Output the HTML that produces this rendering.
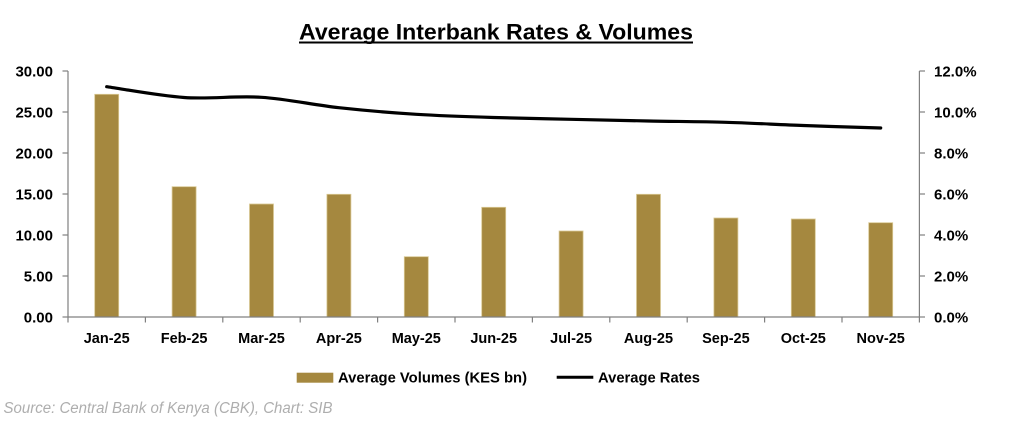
<!DOCTYPE html>
<html><head><meta charset="utf-8"><style>
html,body{margin:0;padding:0;background:#fff;}
svg{display:block;}
text{font-family:"Liberation Sans",sans-serif;}
</style></head><body>
<svg width="1024" height="425" viewBox="0 0 1024 425" xmlns="http://www.w3.org/2000/svg">
<rect width="1024" height="425" fill="#fff"/>
<!-- Title -->
<text x="299" y="39.5" font-size="22" font-weight="bold" fill="#000" textLength="394" lengthAdjust="spacingAndGlyphs">Average Interbank Rates &amp; Volumes</text>
<rect x="299" y="41.5" width="394" height="2" fill="#000"/>

<!-- Bars -->
<g fill="#A5883F" stroke="#D9C995" stroke-width="0.8">
<rect x="94.7" y="94.3" width="24" height="222.7"/>
<rect x="172.1" y="186.7" width="24" height="130.3"/>
<rect x="249.5" y="204" width="24" height="113"/>
<rect x="326.9" y="194.3" width="24" height="122.7"/>
<rect x="404.3" y="256.7" width="24" height="60.3"/>
<rect x="481.7" y="207.3" width="24" height="109.7"/>
<rect x="559.1" y="231" width="24" height="86"/>
<rect x="636.5" y="194.3" width="24" height="122.7"/>
<rect x="713.9" y="218" width="24" height="99"/>
<rect x="791.3" y="219" width="24" height="98"/>
<rect x="868.7" y="222.7" width="24" height="94.3"/>
</g>

<!-- Axes -->
<g stroke="#808080" stroke-width="1.2" fill="none">
<line x1="68" y1="71" x2="68" y2="317"/>
<line x1="919.4" y1="71" x2="919.4" y2="317"/>
<line x1="68" y1="317" x2="919.4" y2="317"/>
<!-- left ticks -->
<line x1="62.5" y1="71" x2="68" y2="71"/>
<line x1="62.5" y1="112" x2="68" y2="112"/>
<line x1="62.5" y1="153" x2="68" y2="153"/>
<line x1="62.5" y1="194" x2="68" y2="194"/>
<line x1="62.5" y1="235" x2="68" y2="235"/>
<line x1="62.5" y1="276" x2="68" y2="276"/>
<line x1="62.5" y1="317" x2="68" y2="317"/>
<!-- right ticks -->
<line x1="919.4" y1="71" x2="925" y2="71"/>
<line x1="919.4" y1="112" x2="925" y2="112"/>
<line x1="919.4" y1="153" x2="925" y2="153"/>
<line x1="919.4" y1="194" x2="925" y2="194"/>
<line x1="919.4" y1="235" x2="925" y2="235"/>
<line x1="919.4" y1="276" x2="925" y2="276"/>
<line x1="919.4" y1="317" x2="925" y2="317"/>
<!-- bottom ticks -->
<line x1="68" y1="317" x2="68" y2="322.5"/>
<line x1="145.4" y1="317" x2="145.4" y2="322.5"/>
<line x1="222.8" y1="317" x2="222.8" y2="322.5"/>
<line x1="300.2" y1="317" x2="300.2" y2="322.5"/>
<line x1="377.6" y1="317" x2="377.6" y2="322.5"/>
<line x1="455" y1="317" x2="455" y2="322.5"/>
<line x1="532.4" y1="317" x2="532.4" y2="322.5"/>
<line x1="609.8" y1="317" x2="609.8" y2="322.5"/>
<line x1="687.2" y1="317" x2="687.2" y2="322.5"/>
<line x1="764.6" y1="317" x2="764.6" y2="322.5"/>
<line x1="842" y1="317" x2="842" y2="322.5"/>
<line x1="919.4" y1="317" x2="919.4" y2="322.5"/>
</g>

<!-- Line -->
<path d="M106.7,86.7 C119.6,88.5 158.3,95.7 184.1,97.5 C209.9,99.3 235.7,95.6 261.5,97.3 C287.3,99.0 313.1,104.9 338.9,107.7 C364.7,110.5 390.5,112.7 416.3,114.3 C442.1,115.9 467.9,116.7 493.7,117.5 C519.5,118.3 545.3,118.7 571.1,119.3 C596.9,119.9 622.7,120.5 648.5,121 C674.3,121.5 700.1,121.55 725.9,122.3 C751.7,123.05 777.5,124.55 803.3,125.5 C829.1,126.45 867.8,127.6 880.7,128" fill="none" stroke="#000" stroke-width="3.2" stroke-linecap="round"/>

<!-- Left labels -->
<g font-size="15" font-weight="bold" fill="#000" text-anchor="end">
<text x="53" y="76.3">30.00</text>
<text x="53" y="117.3">25.00</text>
<text x="53" y="158.3">20.00</text>
<text x="53" y="199.3">15.00</text>
<text x="53" y="240.3">10.00</text>
<text x="53" y="281.3">5.00</text>
<text x="53" y="322.3">0.00</text>
</g>
<!-- Right labels -->
<g font-size="15" font-weight="bold" fill="#000">
<text x="934" y="76.3">12.0%</text>
<text x="934" y="117.3">10.0%</text>
<text x="934" y="158.3">8.0%</text>
<text x="934" y="199.3">6.0%</text>
<text x="934" y="240.3">4.0%</text>
<text x="934" y="281.3">2.0%</text>
<text x="934" y="322.3">0.0%</text>
</g>
<!-- X labels -->
<g font-size="14.5" font-weight="bold" fill="#000" text-anchor="middle">
<text x="106.7" y="343">Jan-25</text>
<text x="184.1" y="343">Feb-25</text>
<text x="261.5" y="343">Mar-25</text>
<text x="338.9" y="343">Apr-25</text>
<text x="416.3" y="343">May-25</text>
<text x="493.7" y="343">Jun-25</text>
<text x="571.1" y="343">Jul-25</text>
<text x="648.5" y="343">Aug-25</text>
<text x="725.9" y="343">Sep-25</text>
<text x="803.3" y="343">Oct-25</text>
<text x="880.7" y="343">Nov-25</text>
</g>

<!-- Legend -->
<rect x="296.7" y="372.7" width="36.6" height="10" fill="#A5883F"/>
<text x="338" y="382.5" font-size="15" font-weight="bold" fill="#000" textLength="189" lengthAdjust="spacingAndGlyphs">Average Volumes (KES bn)</text>
<line x1="556.7" y1="377.3" x2="593.3" y2="377.3" stroke="#000" stroke-width="3"/>
<text x="598" y="382.5" font-size="15" font-weight="bold" fill="#000" textLength="102" lengthAdjust="spacingAndGlyphs">Average Rates</text>

<!-- Source -->
<text x="3.5" y="413" font-size="15.5" font-style="italic" fill="#AEAEAE" textLength="329" lengthAdjust="spacingAndGlyphs">Source: Central Bank of Kenya (CBK), Chart: SIB</text>
</svg>
</body></html>
